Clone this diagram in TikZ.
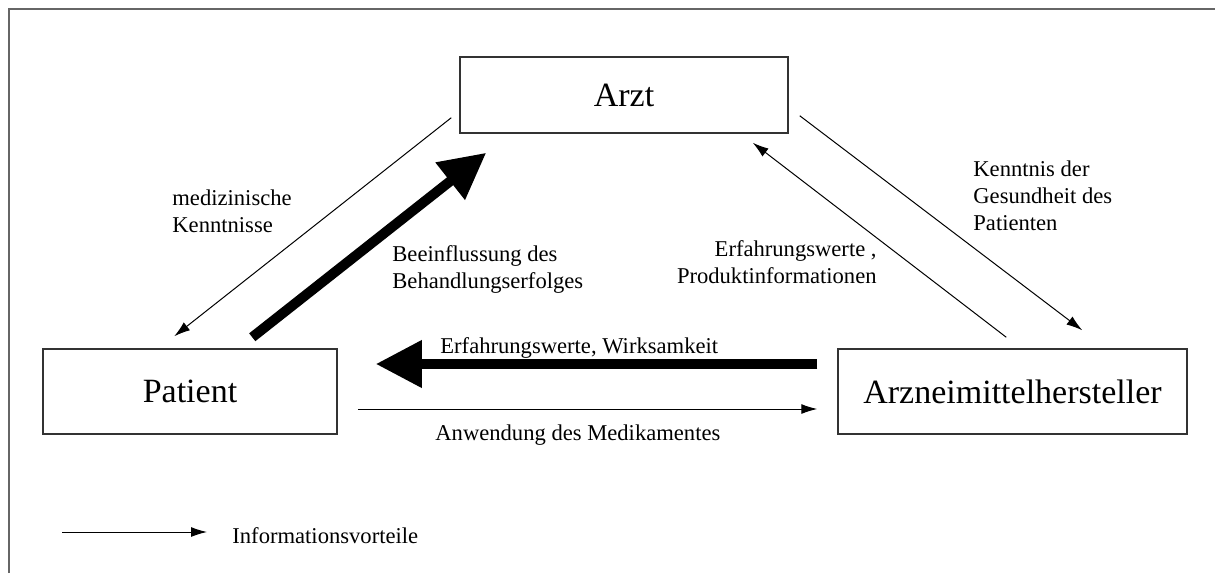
\documentclass[tikz,border=0pt]{standalone}
\usepackage{fontspec}
\setmainfont{Liberation Serif}
\usetikzlibrary{arrows.meta,calc}
\tikzset{
  box/.style={draw=black!80, line width=0.75pt, inner sep=0pt, font=\fontsize{17}{20}\selectfont},
  info/.style={-{Latex[length=8pt,width=5pt]}, line width=0.5pt},
  strong/.style={-{Triangle[length=23pt,width=22.5pt]}, line width=5pt},
  lbl/.style={font=\fontsize{11.3}{13.3}\selectfont, inner sep=0pt}
}
\begin{document}
\begin{tikzpicture}[x=0.5pt,y=-0.5pt]
				\useasboundingbox (0,0) rectangle (1215,573);
				\draw[black!60, line width=1pt] (9,573) -- (9,9) -- (1215,9);
				%--
				\node[box, minimum width=164pt, minimum height=38pt] (arzt) at (624,95) {Arzt};
				\node[box, minimum width=147pt, minimum height=42.5pt] (patient) at (190,391.5) {Patient};
				\node[box, minimum width=174.5pt, minimum height=42.5pt] (hersteller) at (1012.5,391.5) {Arzneimittelhersteller};
				%--
				\draw[info] ($(arzt.south west)+(-8,-16)$) -- ($(patient.north west)+(132,-12)$);
				\draw[strong] ($(patient.north west)+(210,-11)$) -- ($(arzt.south west)+(27,19)$);
				\node[lbl, align=left, anchor=base west] (med) at (172,232) {medizinische\\Kenntnisse};
				\node[lbl, align=left, anchor=base west] (beein) at (392,288) {Beeinflussung des\\Behandlungserfolges};
				%--
				\draw[info] ($(hersteller.north west)+(169,-11)$) -- ($(arzt.south east)+(-36,9)$);
				\draw[info] ($(arzt.south east)+(11,-18)$) -- ($(hersteller.north west)+(245,-18)$);
				\node[lbl, align=right, anchor=base east] (erfahr) at (877,283) {Erfahrungswerte ,\\Produktinformationen};
				\node[lbl, align=left, anchor=base west] (kenntnis) at (973,230) {Kenntnis der\\Gesundheit des\\Patienten};
				%--
				\draw[strong] ($(hersteller.west)+(-20,-27.5)$) -- ($(patient.east)+(38,-27.5)$);
				\draw[info] ($(patient.east)+(20,17.5)$) -- ($(hersteller.west)+(-20,17.5)$);
				\node[lbl, anchor=base west] (wirk) at (440,353) {Erfahrungswerte, Wirksamkeit};
				\node[lbl, anchor=base west] (anw) at (435,440) {Anwendung des Medikamentes};
				%--
				\coordinate (legstart) at (62,532);
				\node[lbl, anchor=base west] (legende) at (232,543) {Informationsvorteile};
				\draw[info] (legstart) -- ($(legstart -| legende.west)+(-25,0)$);
\end{tikzpicture}
\end{document}
